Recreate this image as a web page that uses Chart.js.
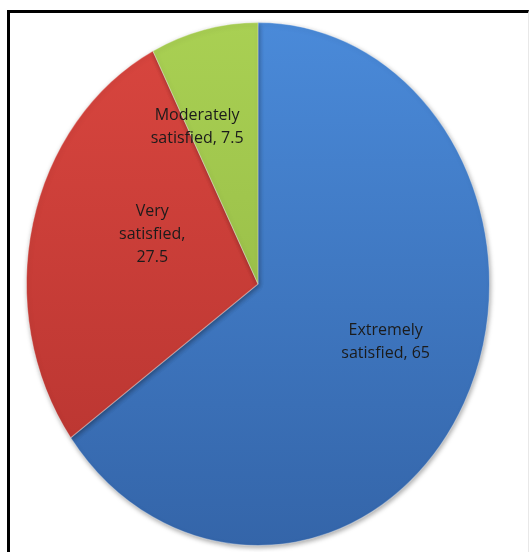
<!DOCTYPE html>
<html>
<head>
<meta charset="utf-8">
<script src="https://cdn.jsdelivr.net/npm/chart.js@4/dist/chart.umd.min.js"></script>
<style>
    body { margin: 0; background: #fff; }
    #frame {
        position: absolute; left: 7px; top: 10px; width: 518px; height: 560px;
        border-top: 3px solid #000; border-left: 3px solid #000; border-right: 1px solid #e8e8e8;
    }
    #myChart { position: absolute; left: 0; top: 0; }
</style>
</head>
<body>
<div id="frame"></div>
<canvas id="myChart" width="531" height="552"></canvas>
<script>
var categories = ['Extremely satisfied', 'Very satisfied', 'Moderately satisfied'];
var values = [65, 27.5, 7.5];
var labelLines = [['Extremely', 'satisfied, 65'], ['Very', 'satisfied,', '27.5'], ['Moderately', 'satisfied, 7.5']];

var topColors = ['#4a8ad9', '#d9463f', '#a9d053'];
var bottomColors = ['#3465a9', '#b5332f', '#8eb241'];
// excel "best fit" label placement: fraction of radius and turn off the mid angle (deg)
var labelRadius = [0.594, 0.495, 0.654];
var labelTurn = [-5.2, 9.1, -10.2];
var stretchY = 1.13; // the original pie is a bit taller than wide

function sliceFill(context) {
    var chart = context.chart;
    var area = chart.chartArea;
    if (!area) return topColors[context.dataIndex];
    var g = chart.ctx.createLinearGradient(0, area.top, 0, area.bottom);
    g.addColorStop(0, topColors[context.dataIndex]);
    g.addColorStop(1, bottomColors[context.dataIndex]);
    return g;
}

// stretch the pie vertically and put the labels on top
var ellipsePlugin = {
    id: 'ellipse',
    beforeDatasetsDraw: function (chart) {
        var ctx = chart.ctx;
        var arc = chart.getDatasetMeta(0).data[0];
        ctx.save();
        ctx.translate(arc.x, arc.y);
        ctx.scale(1, stretchY);
        ctx.translate(-arc.x, -arc.y);
        ctx.shadowColor = 'rgba(0,0,0,0.35)';
        ctx.shadowBlur = 5;
        ctx.shadowOffsetX = 1;
        ctx.shadowOffsetY = 2;
    },
    afterDatasetsDraw: function (chart) {
        var ctx = chart.ctx;
        ctx.restore();
        var arcs = chart.getDatasetMeta(0).data;
        ctx.save();
        ctx.font = '16px "Open Sans", "Liberation Sans", sans-serif';
        ctx.fillStyle = '#1b1b1b';
        ctx.textAlign = 'center';
        ctx.textBaseline = 'middle';
        for (i = 0; i < arcs.length; i++) {
            var a = arcs[i];
            var mid = (a.startAngle + a.endAngle) / 2 + labelTurn[i] * Math.PI / 180;
            var r = a.outerRadius * labelRadius[i];
            var px = a.x + Math.cos(mid) * r;
            var py = a.y + Math.sin(mid) * r * stretchY;
            var lines = labelLines[i];
            var lh = 23;
            var y0 = py - (lines.length - 1) * lh / 2;
            for (var j = 0; j < lines.length; j++) {
                ctx.fillText(lines[j], px, y0 + j * lh);
            }
        }
        ctx.restore();
    }
};

var ctx = document.getElementById('myChart').getContext('2d');
var chart = new Chart(ctx, {
    type: 'pie',
    data: {
        labels: categories,
        datasets: [{
            data: values,
            backgroundColor: sliceFill,
            borderColor: 'rgba(255,255,255,0.35)',
            borderWidth: 1
        }]
    },
    options: {
        responsive: false,
        animation: false,
        layout: { padding: { left: 26, right: 41, top: 52, bottom: 36 } },
        plugins: {
            legend: { display: false },
            tooltip: { enabled: false }
        }
    },
    plugins: [ellipsePlugin]
});
</script>
</body>
</html>
